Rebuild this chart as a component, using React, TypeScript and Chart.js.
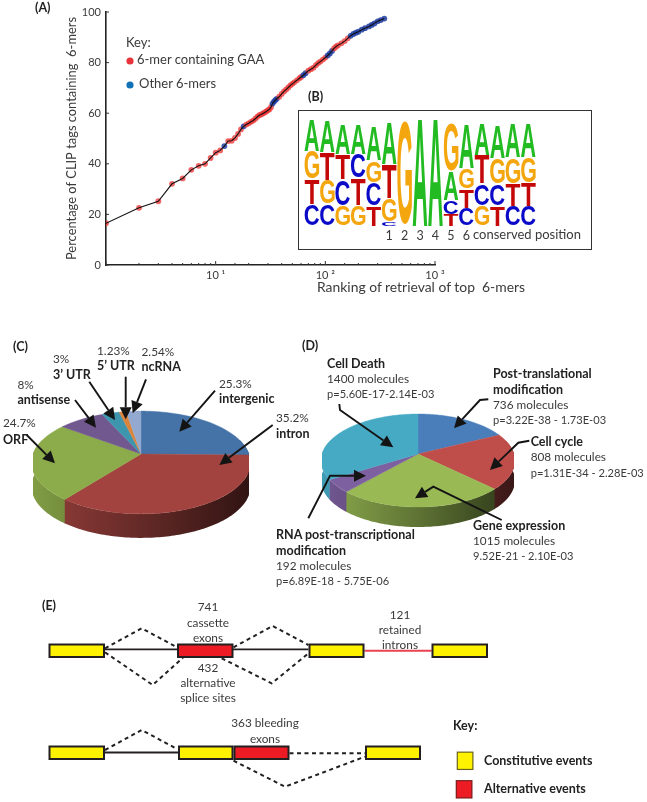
import React, { useEffect, useRef } from "react";
import { Chart, registerables } from "chart.js";
Chart.register(...registerables);

const SANS = "Lato";
const INK = "#3a3a3a";

// ---- (A) cumulative curve
const ranks = [1,2,3,4,5,6,7,8,9,10,11,12,13,14,15,16,17,18,19,20,21,22,23,24,25,26,27,28,29,30,31,32,33,34,35,36,38,40,42,44,46,48,50,52,55,58,60,63,66,70,74,78,82,86,90,95,100,105,110,115,120,125,130,140,150,160,170,180,190,200,215,230,250,265,280,300,320,345];
const percents = [16.5,22.6,25.2,32.1,34.2,37.6,39.2,40,42.3,44.4,45.3,47,49,49.1,50.2,51.8,53.6,54.8,55.5,56,56.6,57.1,57.8,58.6,59.2,59.5,59.9,60.3,60.7,61.2,61.6,62.5,63.8,64.6,65.2,65.7,66.5,67.6,68.6,69.4,70.2,71,71.6,72.2,73,73.8,74.3,75,75.8,76.8,77.4,78,79,79.8,80.4,81.2,82,82.8,83.6,84.6,85.6,86.3,86.8,87.6,88.5,89.6,90.6,91.3,91.8,92.2,93,93.6,94.3,94.9,95.5,96.3,96.8,97.4];
const otherRanks = [12,18,33,34,35,36,63,66,105,110,115,170,180,190,200,215,230,250,265,280,300,320,345];
const yTicks = [0,20,40,60,80,100];

// ---- (B) sequence logo: four stacked layers, bottom to top, one entry per position
const logoPositions = ["","","","","","1","2","3","4","5","6","","","",""];
const layer1Letters = ["C","C","G","G","T","C","G","A","A","T","C","G","T","C","C"];
const layer1Heights = [20.5,20.5,19,20,19,4,98,100,100,11,17,19,19,19,19];
const layer2Letters = ["T","G","C","T","C","G","","","","C","T","C","C","T","T"];
const layer2Heights = [23.5,23,25,25,22,22,0,0,0,13,18,21,21,21,22];
const layer3Letters = ["G","T","T","C","G","T","","","","A","G","T","G","G","G"];
const layer3Heights = [26.5,25.5,24,23,21,32,0,0,0,27,19,27,24,25,24];
const layer4Letters = ["A","A","A","A","A","A","","","","G","A","A","A","A","A"];
const layer4Heights = [29.5,30,28,28,32,39,0,0,0,46,41,30,31,32,32];
const logoColors = { A: "#22bb22", C: "#0a0ac8", G: "#f4a60f", T: "#c40808" };

// ---- (C) genomic regions
const regionLabels = ["intergenic","intron","ORF","antisense","3’ UTR","5’ UTR","ncRNA"];
const regionShares = [25.3,35.2,24.7,8,3,1.23,2.54];
const regionColors = ["#4573a7","#a2433f","#8cab4a","#71588f","#3d96ae","#db843d","#93a9cf"];

// ---- (D) functional categories
const functionLabels = ["Post-translational modification","Cell cycle","Gene expression","RNA post-transcriptional modification","Cell Death"];
const functionMolecules = [736,808,1015,192,1400];
const functionColors = ["#4a7ebb","#bf4e4b","#98b954","#7d60a0","#46aac5"];

// ---- (E) splicing diagram
const exons: [number, number, number, string][] = [
  [48.5,105,650.7,"#fff200"],[177,233.5,650.7,"#ed1c24"],[308.5,364.5,650.7,"#fff200"],[431.5,488,650.7,"#fff200"],
  [48.5,105,752.7,"#fff200"],[178,233.5,752.7,"#fff200"],[233.5,289.5,752.7,"#ed1c24"],[365,421,752.7,"#fff200"],
];
const introns: number[][][] = [[[105,649.3],[308.5,649.3]],[[105,752.5],[178,752.5]]];
const retainedIntron = [[364.5,650.7],[431.5,650.7]];
const dashedJunctions: number[][][] = [
  [[105,648.3],[141.7,628.3],[177,647.3]],
  [[233.5,647.3],[272.7,626],[308.5,645]],
  [[105,652.3],[152.7,685],[183,657.7]],
  [[221.7,658.3],[271.7,683.3],[308.5,653.3]],
  [[105,750],[141.7,730],[177,749]],
  [[289.5,753.3],[365,753.3]],
  [[233.5,760.7],[285,786.7],[365,756.7]],
];
const keySwatches: [number, number, number, string, string][] = [
  [456.7,473.5,760.8,"#fff200","#6b6420"],
  [455.7,472.5,789.3,"#ed1c24","#7a2020"],
];

// ---- text and arrows on top of the charts
type T = [string, number, number, number?, number?];
const plain: T[] = [
  ["Key:",126,44,0,13],["6-mer containing GAA",137,61,0,13],["Other 6-mers",139,85,0,13],
  ["Ranking of retrieval of top  6-mers",317,288,0,13.9],
  ["conserved position",473,236,0,13],
  ["3%",53,360],["1.23%",97,352],["2.54%",141.5,353],["8%",17.5,386],["24.7%",3,424],["25.3%",219,385],["35.2%",276,419],
  ["1400 molecules",327,380],["p=5.60E-17-2.14E-03",327,395,0,11.1],
  ["736 molecules",493,406],["p=3.22E-38 - 1.73E-03",493,421,0,11.1],
  ["808 molecules",530.7,458],["p=1.31E-34 - 2.28E-03",530.7,474,0,11.1],
  ["1015 molecules",473,542],["9.52E-21 - 2.10E-03",473,557,0,11.1],
  ["192 molecules",276,567],["p=6.89E-18 - 5.75E-06",276,582,0,11.1],
  ["741",208,608,1],["cassette",208,624,1],["exons",208,639,1],
  ["432",208,669,1],["alternative",208,684,1],["splice sites",208,699,1],
  ["121",400,615.7,1],["retained",400,630.7,1],["introns",400,645.7,1],
  ["363 bleeding",265,724,1],["exons",265,740,1],
];
const bold: T[] = [
  ["(A)",35,9],["(B)",308,98],["(C)",13,348],["(D)",302,347],["(E)",42,607],
  ["3’ UTR",53,376],["5’ UTR",97,367],["ncRNA",141.5,368],["antisense",17.5,401],["ORF",3,441],["intergenic",219,400],["intron",276,435],
  ["Cell Death",327,365],["Post-translational",493,375],["modification",493,391],["Cell cycle",530.7,443],["Gene expression",473,527],
  ["RNA post-transcriptional",276,536],["modification",276,552],
  ["Key:",453,726.7],["Constitutive events",484,762],["Alternative events",484,790],
];
const arrows: number[][][] = [
  [[89.3,381.7],[115,420]],[[125.7,376.7],[125.7,419.3]],[[146,379.3],[132.7,413.3]],
  [[75,400],[96,427.7]],[[26.7,435],[55,463.3]],[[215,390.7],[179.3,431.7]],[[272.7,425],[219.3,465]],
  [[339.3,404],[340,410],[393.3,447.3]],[[488.3,399.3],[480,400],[454,428.3]],
  [[529.3,440.7],[518.3,442.7],[490,470]],[[501.7,520],[433.3,486.7],[415,498.3]],
  [[308.3,518.3],[330,475.7],[366,475.7]],
];

// ---- plugins
const axisMarks = {
  id: "axisMarks",
  afterDraw(chart: any) {
    const { ctx, scales } = chart;
    ctx.save();
    ctx.strokeStyle = "#333";
    ctx.lineWidth = 1;
    const x = scales.x, y = scales.y;
    for (const t of x.ticks) {
      const major = Math.abs(Math.log10(t.value) % 1) < 1e-6;
      const px = x.getPixelForValue(t.value);
      ctx.beginPath(); ctx.moveTo(px, y.bottom); ctx.lineTo(px, y.bottom - (major ? 4 : 2)); ctx.stroke();
    }
    for (const v of yTicks) {
      const py = y.getPixelForValue(v);
      ctx.beginPath(); ctx.moveTo(x.left, py); ctx.lineTo(x.left + 3, py); ctx.stroke();
    }
    ctx.restore();
  },
};

const logoGlyphs = {
  id: "logoGlyphs",
  afterDatasetsDraw(chart: any) {
    const { ctx } = chart;
    chart.data.datasets.forEach((ds: any, i: number) => {
      chart.getDatasetMeta(i).data.forEach((bar: any, j: number) => {
        const letter = ds.letters[j];
        if (!letter) return;
        const top = Math.min(bar.y, bar.base), h = Math.abs(bar.base - bar.y), w = bar.width;
        ctx.save();
        ctx.font = "bold 60px 'Liberation Sans'";
        ctx.fillStyle = (logoColors as any)[letter];
        const m = ctx.measureText(letter);
        const mw = m.actualBoundingBoxLeft + m.actualBoundingBoxRight;
        const mh = m.actualBoundingBoxAscent + m.actualBoundingBoxDescent;
        ctx.translate(bar.x - w / 2 + 0.4, top + 0.5);
        ctx.scale((w - 0.8) / mw, Math.max(h - 1, 1) / mh);
        ctx.textBaseline = "alphabetic";
        ctx.fillText(letter, m.actualBoundingBoxLeft, m.actualBoundingBoxAscent);
        ctx.restore();
      });
    });
  },
};

function shade(hex: string, k: number) {
  const n = parseInt(hex.slice(1), 16);
  const c = [(n >> 16) & 255, (n >> 8) & 255, n & 255].map((v) => Math.round(v * k));
  return `rgb(${c[0]},${c[1]},${c[2]})`;
}

const pie3d = {
  id: "pie3d",
  beforeDatasetsDraw(chart: any, _args: any, opts: any) {
    const { ctx } = chart;
    const arcs = chart.getDatasetMeta(0).data;
    const colors = chart.data.datasets[0].backgroundColor;
    const cx = arcs[0].x, cy = arcs[0].y, R = arcs[0].outerRadius;
    const { squash, tilt, depth } = opts;
    const P = (a: number) => {
      const w = 1 - tilt * Math.sin(a);
      return [cx + (R * Math.cos(a)) / w, cy + (R * squash * Math.sin(a)) / w];
    };
    const samples = (a: number, b: number) => {
      const n = Math.max(2, Math.ceil((b - a) / 0.02));
      const out = [];
      for (let i = 0; i <= n; i++) out.push(P(a + ((b - a) * i) / n));
      return out;
    };
    ctx.save();
    arcs.forEach((arc: any, i: number) => {
      const a = Math.max(arc.startAngle, -0.3), b = Math.min(arc.endAngle + 0.01, Math.PI + 0.3);
      if (a >= b) return;
      const top = samples(a, b);
      const g = ctx.createLinearGradient(cx - R, 0, cx + R, 0);
      g.addColorStop(0, shade(colors[i], 0.92));
      g.addColorStop(0.5, shade(colors[i], 0.62));
      g.addColorStop(1, shade(colors[i], 0.3));
      ctx.fillStyle = g;
      ctx.beginPath();
      top.forEach(([x, y], k) => (k ? ctx.lineTo(x, y) : ctx.moveTo(x, y)));
      top.slice().reverse().forEach(([x, y]) => ctx.lineTo(x, y + depth));
      ctx.closePath();
      ctx.fill();
    });
    arcs.forEach((arc: any, i: number) => {
      ctx.fillStyle = colors[i];
      ctx.strokeStyle = colors[i];
      ctx.lineWidth = 0.4;
      ctx.beginPath();
      ctx.moveTo(cx, cy);
      samples(arc.startAngle, arc.endAngle).forEach(([x, y]) => ctx.lineTo(x, y));
      ctx.closePath();
      ctx.fill();
      ctx.stroke();
    });
    ctx.restore();
    return false;
  },
};

// ---- chart configurations
function configA(): any {
  const pts = ranks.map((r, i) => ({ x: r, y: percents[i] }));
  return {
    type: "line",
    data: {
      datasets: [
        { data: pts, borderColor: "#111", borderWidth: 1.1, pointRadius: 0, tension: 0 },
        {
          data: pts, showLine: false, pointRadius: 2.9, pointBorderWidth: 0,
          pointBackgroundColor: ranks.map((r) => (otherRanks.includes(r) ? "rgba(30,60,160,0.85)" : "rgba(235,50,50,0.75)")),
        },
      ],
    },
    plugins: [axisMarks],
    options: {
      animation: false, responsive: false,
      layout: { padding: { top: 12, right: 212, left: 0, bottom: 0 } },
      plugins: { legend: { display: false }, tooltip: { enabled: false } },
      scales: {
        x: {
          type: "logarithmic", min: 1, max: 1000,
          grid: { display: false, drawTicks: false },
          border: { display: true, color: "#222", width: 1.6 },
          afterFit: (s: any) => { s.height = 35; },
          ticks: {
            autoSkip: false, maxRotation: 0, padding: 4, color: INK,
            font: { family: SANS, size: 11 },
            callback: (v: number) => (v === 10 ? "10 ¹" : v === 100 ? "10 ²" : v === 1000 ? "10 ³" : ""),
          },
        },
        y: {
          min: 0, max: 100,
          grid: { display: false, drawTicks: false },
          border: { display: true, color: "#222", width: 1.6 },
          afterFit: (s: any) => { s.width = 106; },
          afterBuildTicks: (s: any) => { s.ticks = yTicks.map((value) => ({ value })); },
          ticks: { padding: 5, color: INK, font: { family: SANS, size: 11 } },
          title: {
            display: true, text: "Percentage of CLIP tags containing  6-mers", color: INK,
            font: { family: SANS, size: 12.9 }, padding: { top: 64, bottom: 0 },
          },
        },
      },
    },
  };
}

function configB(): any {
  const layers = [
    [layer1Letters, layer1Heights], [layer2Letters, layer2Heights],
    [layer3Letters, layer3Heights], [layer4Letters, layer4Heights],
  ];
  return {
    type: "bar",
    data: {
      labels: logoPositions.map((p, i) => (p === "" ? " ".repeat(i + 1) : p)),
      datasets: layers.map(([letters, heights]) => ({
        data: heights, letters, backgroundColor: "rgba(0,0,0,0)", barPercentage: 1, categoryPercentage: 1,
      })),
    },
    plugins: [logoGlyphs],
    options: {
      animation: false, responsive: false,
      layout: { padding: { top: 9, left: 5, right: 55, bottom: 0 } },
      plugins: { legend: { display: false }, tooltip: { enabled: false } },
      scales: {
        x: {
          stacked: true, grid: { display: false, drawTicks: false }, border: { display: false },
          afterFit: (s: any) => { s.height = 22.7; },
          ticks: { autoSkip: false, maxRotation: 0, padding: 2, color: INK, font: { family: SANS, size: 12.5 } },
        },
        y: { stacked: true, display: false, min: 0, max: 100 },
      },
    },
  };
}

function configPie(labels: string[], values: number[], colors: string[], p3d: any): any {
  return {
    type: "pie",
    data: { labels, datasets: [{ data: values, backgroundColor: colors, borderWidth: 0 }] },
    plugins: [pie3d],
    options: {
      animation: false, responsive: false,
      plugins: { legend: { display: false }, tooltip: { enabled: false }, pie3d: p3d },
    },
  };
}

function configE(): any {
  const line = (pts: number[][], color: string, width: number, order: number, dash: number[] = []) => ({
    data: pts.map(([x, y]) => ({ x, y })), showLine: true, pointRadius: 0, tension: 0,
    borderColor: color, borderWidth: width, borderDash: dash, borderCapStyle: "butt", order,
  });
  const datasets: any[] = [];
  introns.forEach((p) => datasets.push(line(p, "#231f20", 1.8, 4)));
  datasets.push(line(retainedIntron, "#e8434f", 1.9, 4));
  dashedJunctions.forEach((p) => datasets.push(line(p, "#231f20", 2, 4, [4, 3.5])));
  exons.forEach(([a, b, y, c]) => {
    datasets.push(line([[a, y], [b, y]], "#231f20", 14.5, 3));
    datasets.push(line([[a + 2, y], [b - 2, y]], c, 10.5, 2));
  });
  keySwatches.forEach(([a, b, y, c, edge]) => {
    datasets.push(line([[a, y], [b, y]], edge, 18.5, 3));
    datasets.push(line([[a + 1.2, y], [b - 1.2, y]], c, 16.1, 2));
  });
  return {
    type: "scatter",
    data: { datasets },
    options: {
      animation: false, responsive: false,
      layout: { padding: 0 },
      plugins: { legend: { display: false }, tooltip: { enabled: false } },
      scales: {
        x: { type: "linear", display: false, min: 0, max: 647 },
        y: { type: "linear", display: false, min: 595, max: 802, reverse: true },
      },
    },
  };
}

function ChartBox({ make, left, top, width, height }: any) {
  const ref = useRef<HTMLCanvasElement>(null);
  useEffect(() => {
    const chart = new Chart(ref.current as HTMLCanvasElement, make());
    return () => chart.destroy();
  }, []);
  return (
    <canvas ref={ref} width={width} height={height}
      style={{ position: "absolute", left, top, width, height, display: "block" }} />
  );
}

function Arrow({ pts }: { pts: number[][] }) {
  const [a, b] = pts.slice(-2);
  const d = Math.hypot(b[0] - a[0], b[1] - a[1]);
  const ux = (b[0] - a[0]) / d, uy = (b[1] - a[1]) / d;
  const L = 12, W = 6;
  const bx = b[0] - ux * L, by = b[1] - uy * L;
  const line = pts.slice(0, -1).concat([[bx, by]]).map((p) => p.join(",")).join(" ");
  const head = `${b[0]},${b[1]} ${bx - uy * W},${by + ux * W} ${bx + uy * W},${by - ux * W}`;
  return (
    <g>
      <polyline points={line} fill="none" stroke="#141414" strokeWidth={1.9} />
      <polygon points={head} fill="#141414" />
    </g>
  );
}

export default function App() {
  const label = (t: T, isBold: boolean, key: string) => (
    <text key={key} x={t[1]} y={t[2]} dominantBaseline="middle"
      textAnchor={t[3] ? "middle" : "start"} fontSize={t[4] || (isBold ? 12.5 : 11.8)}
      fontWeight={isBold ? 700 : 400} fill={isBold ? "#222" : INK} style={{ whiteSpace: "pre" }}>
      {t[0]}
    </text>
  );
  return (
    <div style={{ position: "absolute", left: 0, top: 0, width: 647, height: 802, background: "#fff", overflow: "hidden" }}>
      <ChartBox make={configA} left={0} top={0} width={647} height={300} />
      <div style={{ position: "absolute", left: 298, top: 110, width: 292, height: 138, border: "1.4px solid #333", background: "#fff" }}>
        <ChartBox make={configB} left={0} top={0} width={292} height={138} />
      </div>
      <ChartBox make={() => configPie(regionLabels, regionShares, regionColors, { squash: 0.463, tilt: 0.165, depth: 24 })}
        left={33} top={346} width={216} height={216} />
      <ChartBox make={() => configPie(functionLabels, functionMolecules, functionColors, { squash: 0.475, tilt: 0.14, depth: 20 })}
        left={322} top={358} width={192} height={192} />
      <ChartBox make={configE} left={0} top={595} width={647} height={207} />
      <svg width={647} height={802} style={{ position: "absolute", left: 0, top: 0, fontFamily: SANS, pointerEvents: "none" }}>
        <circle cx={130} cy={61} r={3.6} fill="#e8323c" />
        <circle cx={130} cy={85} r={3.6} fill="#1272b8" />
        {arrows.map((p, i) => <Arrow key={i} pts={p} />)}
        {plain.map((t, i) => label(t, false, "p" + i))}
        {bold.map((t, i) => label(t, true, "b" + i))}
      </svg>
    </div>
  );
}
